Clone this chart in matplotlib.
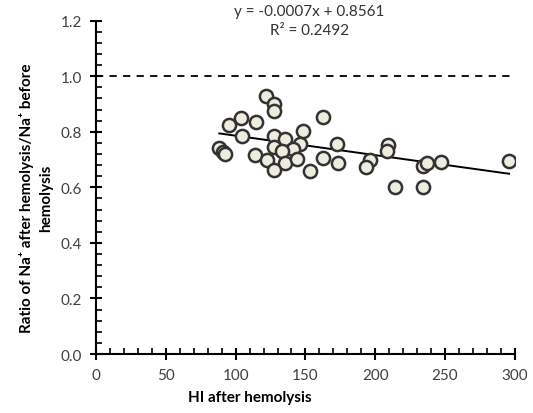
import matplotlib
matplotlib.use('Agg')
import matplotlib.pyplot as plt
from matplotlib.ticker import MultipleLocator, FormatStrFormatter
import numpy as np

# HI after hemolysis vs ratio of Na+ after/before hemolysis
hi = [88.3, 90.8, 92.6, 95.5, 103.9, 114.4, 121.6, 127.5, 127.5, 162.4,
      104.4, 127.5, 135.4, 148.1, 146.1, 141.3, 127.5, 133.0, 113.9, 122.3,
      135.4, 144.2, 127.5, 153.3, 162.4, 172.4, 173.6, 196.3, 193.2, 209.0,
      208.2, 214.2, 234.5, 236.9, 246.9, 234.0, 295.8]
ratio = [0.740, 0.728, 0.720, 0.825, 0.848, 0.836, 0.928, 0.900, 0.876, 0.854,
         0.784, 0.786, 0.774, 0.802, 0.756, 0.738, 0.744, 0.732, 0.716, 0.699,
         0.686, 0.702, 0.663, 0.658, 0.706, 0.756, 0.686, 0.699, 0.674, 0.753,
         0.732, 0.600, 0.678, 0.686, 0.690, 0.600, 0.696]
slope, intercept = -0.0007, 0.8561
r2 = 0.2492

plt.rcParams['font.family'] = ['Lato', 'DejaVu Sans']

fig = plt.figure(figsize=(5.33, 4.14), dpi=100)
ax = fig.add_axes([0.1801, 0.1425, 0.786, 0.805])

# reference line at ratio = 1
ax.plot([0, 300], [1.0, 1.0], color='black', lw=1.3, ls=(0, (4, 3.5)))

# linear trend line over the data range
xf = np.array([min(hi), max(hi)])
ax.plot(xf, slope * xf + intercept, color='black', lw=1.4, zorder=2)

ax.plot(hi, ratio, 'o', ms=9.5, mfc='#eeecdf', mec='#333333', mew=1.8, zorder=3, ls='none')

ax.set_xlim(0, 300)
ax.set_ylim(0, 1.2)
ax.xaxis.set_major_locator(MultipleLocator(50))
ax.xaxis.set_minor_locator(MultipleLocator(10))
ax.yaxis.set_major_locator(MultipleLocator(0.2))
ax.yaxis.set_minor_locator(MultipleLocator(0.04))
ax.yaxis.set_major_formatter(FormatStrFormatter('%.1f'))

for s in ['top', 'right']:
    ax.spines[s].set_visible(False)
for s in ['left', 'bottom']:
    ax.spines[s].set_linewidth(1.5)
ax.tick_params(which='major', direction='inout', length=8, width=1.5,
               labelsize=11, labelcolor='#404040', pad=6)
ax.tick_params(which='minor', direction='in', length=4, width=1.2)

fig.text(0.469, 0.022, 'HI after hemolysis', ha='center', va='bottom',
         fontsize=11, fontweight='bold')
fig.text(0.068, 0.52, 'Ratio of Na\u207a after hemolysis/Na\u207a before\nhemolysis',
         rotation=90, ha='center', va='center', fontsize=11, fontweight='bold',
         linespacing=1.45)

fig.text(0.58, 0.972, 'y = -0.0007x + 0.8561', ha='center', va='center',
         fontsize=11, color='#333333')
fig.text(0.58, 0.924, 'R\u00b2 = %.4f' % r2, ha='center', va='center',
         fontsize=11, color='#333333')

fig.savefig('out.png', dpi=100)
